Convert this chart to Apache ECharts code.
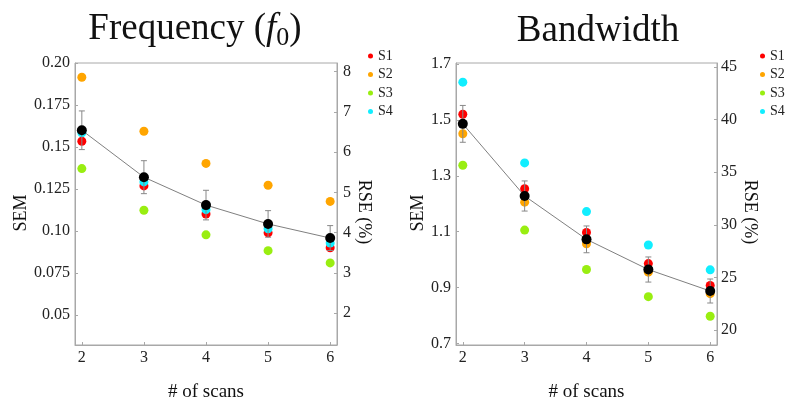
<!DOCTYPE html>
<html><head><meta charset="utf-8">
<script src="https://cdn.jsdelivr.net/npm/echarts@6/dist/echarts.min.js"></script>
<style>html,body{margin:0;padding:0;background:#fff}#c{width:787px;height:407px}</style>
</head><body><div id="c"></div>
<script>
// ---- data ----
const scans = [2, 3, 4, 5, 6];
const seriesNames = ['S1', 'S2', 'S3', 'S4'];
const freqS1 = [0.1535, 0.1269, 0.1102, 0.0990, 0.0901];
const freqS2 = [0.1915, 0.1594, 0.1403, 0.1273, 0.1177];
const freqS3 = [0.1372, 0.1124, 0.0978, 0.0884, 0.0811];
const freqS4 = [0.1585, 0.1293, 0.1128, 0.1014, 0.0929];
const freqMean = [0.1600, 0.1321, 0.1155, 0.1043, 0.0959];
const freqErr = [0.0115, 0.0098, 0.0088, 0.0079, 0.0074];
const bwS1 = [1.521, 1.254, 1.0975, 0.9858, 0.9075];
const bwS2 = [1.451, 1.206, 1.057, 0.955, 0.878];
const bwS3 = [1.338, 1.1057, 0.9645, 0.8673, 0.797];
const bwS4 = [1.636, 1.3466, 1.172, 1.0523, 0.9633];
const bwMean = [1.4865, 1.228, 1.0726, 0.9645, 0.8875];
const bwErr = [0.066, 0.054, 0.048, 0.045, 0.043];
const freqSemTicks = ['0.05', '0.075', '0.10', '0.125', '0.15', '0.175', '0.20'];
const freqRseTicks = ['2', '3', '4', '5', '6', '7', '8'];
const bwSemTicks = ['0.7', '0.9', '1.1', '1.3', '1.5', '1.7'];
const bwRseTicks = ['20', '25', '30', '35', '40', '45'];
const xTicks = ['2', '3', '4', '5', '6'];

// ---- styling ----
const FONT = 'Liberation Serif';
const AX = '#a8a8a8';
const colors = ['#ff0000', '#ffa500', '#99ee11', '#11eeff'];

function axisCommon() {
  return {
    axisLine: { show: true, lineStyle: { color: AX, width: 1 } },
    axisTick: { show: true, inside: true, length: 3, lineStyle: { color: AX } },
    splitLine: { show: false },
    axisLabel: { fontFamily: FONT, fontSize: 16, color: '#222' }
  };
}
function xAxis(gi) {
  const c = axisCommon();
  const vals = xTicks.map(Number);
  return Object.assign(c, {
    type: 'value', gridIndex: gi, min: 1.89, max: 6.11,
    name: '# of scans', nameLocation: 'middle', nameGap: 38,
    nameTextStyle: { fontFamily: FONT, fontSize: 19, color: '#111' },
    axisTick: Object.assign(c.axisTick, { customValues: vals }),
    axisLabel: Object.assign(c.axisLabel, { customValues: vals, margin: 5, formatter: v => String(v) })
  });
}
function yAxis(gi, pos, min, max, ticks, name, gap, rot, margin, pad) {
  const c = axisCommon();
  const vals = ticks.map(Number);
  return Object.assign(c, {
    type: 'value', gridIndex: gi, position: pos, min: min, max: max,
    name: name, nameLocation: 'middle', nameGap: gap, nameRotate: rot,
    nameTextStyle: { fontFamily: FONT, fontSize: 18, color: '#111', padding: pad },
    axisTick: Object.assign(c.axisTick, { customValues: vals }),
    axisLabel: Object.assign(c.axisLabel, { customValues: vals, margin: margin,
      formatter: v => { const i = vals.findIndex(t => Math.abs(t - v) < 1e-9); return i >= 0 ? ticks[i] : ''; } })
  });
}
function pts(arr) { return scans.map((x, i) => [x, arr[i]]); }
function errSeries(xi, yi, mean, err) {
  return {
    type: 'custom', xAxisIndex: xi, yAxisIndex: yi, z: 3,
    data: scans.map((x, i) => [x, mean[i] - err[i], mean[i] + err[i]]),
    renderItem: (params, api) => {
      const lo = api.coord([api.value(0), api.value(1)]);
      const hi = api.coord([api.value(0), api.value(2)]);
      const w = 3;
      const st = { stroke: '#888', lineWidth: 1 };
      return { type: 'group', children: [
        { type: 'line', shape: { x1: lo[0], y1: lo[1], x2: hi[0], y2: hi[1] }, style: st },
        { type: 'line', shape: { x1: lo[0] - w, y1: lo[1], x2: lo[0] + w, y2: lo[1] }, style: st },
        { type: 'line', shape: { x1: hi[0] - w, y1: hi[1], x2: hi[0] + w, y2: hi[1] }, style: st }
      ]};
    }
  };
}
function panelSeries(xi, yi, sets, mean, err) {
  const s = sets.map((d, k) => ({
    type: 'scatter', name: seriesNames[k], xAxisIndex: xi, yAxisIndex: yi,
    data: pts(d), symbolSize: 9, itemStyle: { color: colors[k], opacity: 1 }, z: 2 + k * 0.01
  }));
  s.push({ type: 'line', xAxisIndex: xi, yAxisIndex: yi, data: pts(mean), symbol: 'none',
    lineStyle: { color: '#808080', width: 1 }, z: 4 });
  s.push(errSeries(xi, yi, mean, err));
  s.push({ type: 'scatter', xAxisIndex: xi, yAxisIndex: yi, data: pts(mean), symbolSize: 10,
    itemStyle: { color: '#000', opacity: 1 }, z: 5 });
  return s;
}

const chart = echarts.init(document.getElementById('c'), null, { renderer: 'canvas' });
const legendCommon = {
  orient: 'vertical', icon: 'circle', itemWidth: 5, itemHeight: 5, itemGap: 4.5, padding: 0,
  textStyle: { fontFamily: FONT, fontSize: 14, color: '#222' }, data: seriesNames, selectedMode: false
};
const titleRich = {
  a: { fontFamily: FONT, fontSize: 37, fontWeight: 'normal', color: '#111', lineHeight: 44, verticalAlign: 'middle' },
  f: { fontFamily: FONT, fontSize: 37, fontWeight: 'normal', fontStyle: 'italic', color: '#111', lineHeight: 44, verticalAlign: 'middle' },
  s: { fontFamily: FONT, fontSize: 26, fontWeight: 'normal', color: '#111', lineHeight: 22, padding: [30, 0, 0, 0], verticalAlign: 'bottom' }
};
chart.setOption({
  animation: false,
  backgroundColor: '#fff',
  title: [
    { text: '{a|Frequency (}{f|f}{s|0}{a|)}', left: 190, top: 2, textAlign: 'center',
      textStyle: { fontWeight: 'normal', rich: titleRich } },
    { text: 'Bandwidth', left: 593, top: 8, textAlign: 'center',
      textStyle: { fontFamily: FONT, fontSize: 37, fontWeight: 'normal', color: '#111' } }
  ],
  legend: [
    Object.assign({ left: 368, top: 49 }, legendCommon),
    Object.assign({ left: 760, top: 49 }, legendCommon)
  ],
  grid: [
    { left: 75, right: 450, top: 63, bottom: 60, show: true, borderColor: AX, borderWidth: 1, containLabel: false },
    { left: 456, right: 70, top: 63, bottom: 60, show: true, borderColor: AX, borderWidth: 1, containLabel: false }
  ],
  xAxis: [xAxis(0), xAxis(1)],
  yAxis: [
    yAxis(0, 'left', 0.0323, 0.2, freqSemTicks, 'SEM', 43, 90, 5, [0, 18, 0, 0]),
    yAxis(0, 'right', 1.21, 8.215, freqRseTicks, 'RSE (%)', 16, -90, 6, [0, 0, 0, 16]),
    yAxis(1, 'left', 0.694, 1.7046, bwSemTicks, 'SEM', 28, 90, 5, [0, 18, 0, 0]),
    yAxis(1, 'right', 18.58, 45.38, bwRseTicks, 'RSE (%)', 21, -90, 4, [0, 0, 0, 16])
  ],
  series: [].concat(
    panelSeries(0, 0, [freqS1, freqS2, freqS3, freqS4], freqMean, freqErr),
    panelSeries(1, 2, [bwS1, bwS2, bwS3, bwS4], bwMean, bwErr)
  )
});
</script></body></html>
